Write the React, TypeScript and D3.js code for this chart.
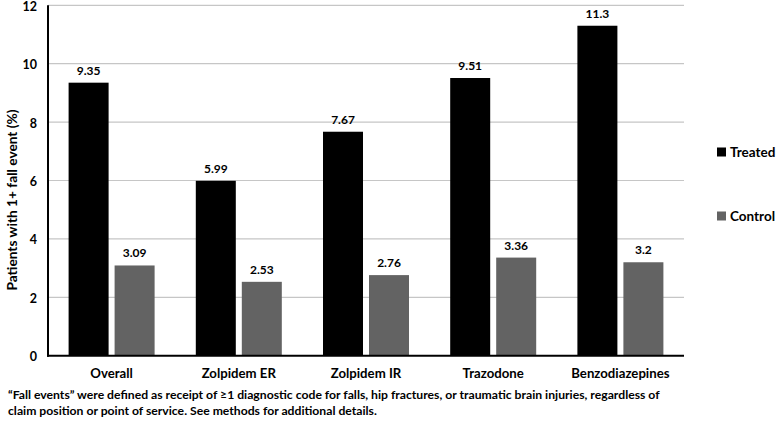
import React from "react";
import * as d3 from "d3";

const categories = ["Overall", "Zolpidem ER", "Zolpidem IR", "Trazodone", "Benzodiazepines"];
const seriesNames = ["Treated", "Control"];
const treated = [9.35, 5.99, 7.67, 9.51, 11.3];
const control = [3.09, 2.53, 2.76, 3.36, 3.2];
const yTicks = [0, 2, 4, 6, 8, 10, 12];
const colors = ["#000000", "#636363"];
const footnote = [
  "\u201CFall events\u201D were defined as receipt of \u22651 diagnostic code for falls, hip fractures, or traumatic brain injuries, regardless of",
  "claim position or point of service. See methods for additional details.",
];

const W = 777;
const H = 437;
const left = 48;
const right = 684;
const top = 5.3;
const bottom = 355.7;
const FONT = "Lato, 'Open Sans', sans-serif";

export default function App() {
  const x = d3.scaleBand<string>().domain(categories).range([left, right]).paddingInner(0).paddingOuter(0);
  const y = d3.scaleLinear().domain([0, 12]).range([bottom, top]);
  const bw = 40;
  const gap = 6;
  const series = [treated, control];

  return (
    <svg
      width={W}
      height={H}
      style={{ position: "absolute", left: 0, top: 0, background: "#fff" }}
      fontFamily={FONT}
      fontWeight="bold"
    >
      {yTicks.map((t) => (
        <g key={t}>
          {t > 0 && (
            <line x1={left} x2={right} y1={y(t)} y2={y(t)} stroke="#c6c6c6" strokeWidth={1.2} />
          )}
          <text x={37} y={y(t) + 1.2} dy="0.35em" textAnchor="end" fontSize={12.5} fill="#000">
            {t}
          </text>
        </g>
      ))}
      {categories.map((c, i) => {
        const cx = (x(c) as number) + x.bandwidth() / 2;
        return (
          <g key={c}>
            {series.map((s, k) => {
              const bx = k === 0 ? cx - gap / 2 - bw : cx + gap / 2;
              const v = s[i];
              return (
                <g key={k}>
                  <rect x={bx} y={y(v)} width={bw} height={bottom - y(v)} fill={colors[k]} />
                  <text x={bx + bw / 2} y={y(v) - 8} textAnchor="middle" fontSize={12} fill="#000">
                    {v}
                  </text>
                </g>
              );
            })}
            <text x={cx} y={373} dy="0.35em" textAnchor="middle" fontSize={13.2} fill="#000">
              {c}
            </text>
          </g>
        );
      })}
      <line x1={left} x2={left} y1={top} y2={bottom + 1} stroke="#000" strokeWidth={2} />
      <line x1={left - 1} x2={right} y1={bottom} y2={bottom} stroke="#000" strokeWidth={2} />
      <text
        transform={`translate(12,200) rotate(-90)`}
        textAnchor="middle"
        dy="0.35em"
        fontSize={13.7}
        fill="#000"
      >
        Patients with 1+ fall event (%)
      </text>
      {seriesNames.map((n, k) => {
        const cy = k === 0 ? 152 : 216;
        return (
          <g key={n}>
            <rect x={717} y={cy - 4.5} width={9} height={9} fill={colors[k]} />
            <text x={730} y={cy} dy="0.35em" fontSize={13.5} fill="#000">
              {n}
            </text>
          </g>
        );
      })}
      {footnote.map((l, i) => (
        <text key={i} x={8} y={395 + i * 15.5} dy="0.35em" fontSize={12.2} fill="#000">
          {l}
        </text>
      ))}
    </svg>
  );
}
